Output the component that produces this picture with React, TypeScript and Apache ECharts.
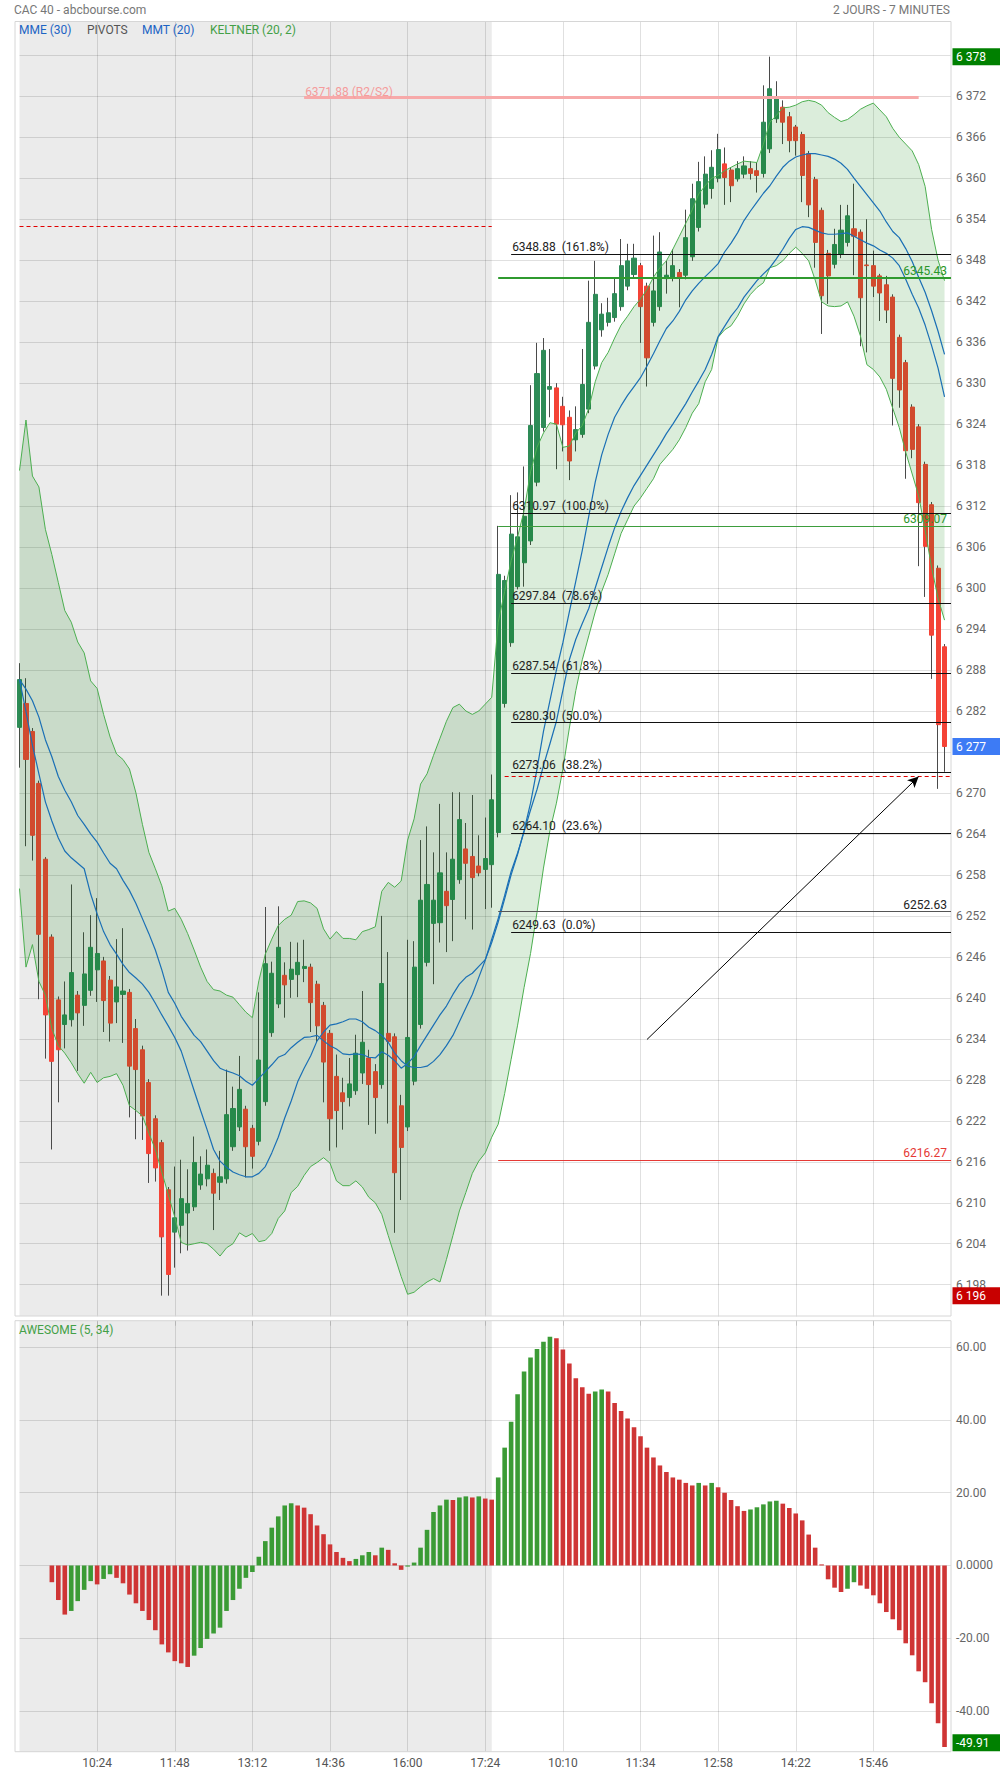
import React, { useEffect, useRef } from "react";
import * as echarts from "echarts";

// ---------- time axis ----------
const SESSION_OPEN_MIN = 9 * 60;
const STEP_MIN = 7;
const DAY1_SLOTS = 74; // 9:00 .. 17:31
const DAY2_SLOTS = 71; // 9:00 .. 17:03 + one empty slot at the right edge
const TICK_INDEX = [12, 24, 36, 48, 60, 72, 84, 96, 108, 120, 132];
const TICK_LABELS = ["10:24", "11:48", "13:12", "14:36", "16:00", "17:24", "10:10", "11:34", "12:58", "14:22", "15:46"];

// ---------- candles ----------
const OPEN = [
  6279.6, 6283.1, 6279.0, 6271.4, 6260.3, 6248.9, 6239.7, 6236.1, 6236.8, 6240.4,
  6238.9, 6241.1, 6244.1, 6245.4, 6242.6, 6239.4, 6240.5, 6240.8, 6235.5, 6232.4,
  6227.6, 6222.3, 6218.8, 6211.9, 6205.7, 6206.7, 6208.5, 6209.4, 6212.6, 6213.5,
  6214.3, 6213.0, 6213.5, 6218.2, 6221.1, 6223.7, 6220.9, 6219.0, 6224.8, 6234.9,
  6239.1, 6243.3, 6242.7, 6243.4, 6244.3, 6244.5, 6242.0, 6238.9, 6234.8, 6228.5,
  6226.1, 6225.4, 6226.4, 6229.0, 6231.2, 6229.2, 6227.3, 6234.8, 6234.3, 6224.2,
  6221.1, 6227.8, 6236.1, 6245.2, 6250.9, 6251.0, 6255.6, 6254.4, 6257.3, 6261.8,
  6260.7, 6259.3, 6258.8, 6259.5,
  6264.2, 6283.1, 6292.0, 6300.2, 6303.7, 6306.9, 6315.5, 6323.5, 6329.1, 6329.3,
  6326.6, 6325.0, 6321.7, 6322.5, 6326.2, 6332.5, 6337.8, 6338.9, 6339.6, 6341.2,
  6344.2, 6345.9, 6347.2, 6344.2, 6338.9, 6341.2, 6345.3, 6345.5, 6346.2, 6345.8,
  6348.5, 6352.8, 6356.2, 6358.5, 6360.0, 6362.1, 6361.2, 6359.9, 6360.6, 6361.4,
  6361.1, 6360.7, 6364.3, 6368.7, 6370.4, 6369.0, 6367.5, 6366.4, 6363.6, 6359.8,
  6355.3, 6349.0, 6347.4, 6348.9, 6350.6, 6352.6, 6352.1, 6347.3, 6347.2, 6345.7,
  6344.4, 6342.6, 6336.7, 6333.0, 6326.5, 6323.6, 6318.1, 6312.2, 6302.9, 6291.4,
];
const HIGH = [
  6289.0, 6286.8, 6279.5, 6271.8, 6260.6, 6249.3, 6240.2, 6242.4, 6256.6, 6241.0,
  6249.6, 6252.1, 6254.6, 6246.0, 6243.2, 6248.6, 6250.2, 6241.3, 6236.9, 6233.0,
  6228.1, 6222.8, 6219.2, 6212.3, 6215.3, 6216.3, 6214.9, 6219.7, 6216.8, 6217.8,
  6215.0, 6217.6, 6229.5, 6227.0, 6231.5, 6224.2, 6221.4, 6240.8, 6253.3, 6245.3,
  6253.4, 6245.2, 6248.2, 6248.1, 6248.5, 6245.0, 6242.5, 6239.4, 6235.3, 6231.7,
  6228.3, 6231.2, 6234.6, 6241.0, 6232.4, 6230.3, 6252.0, 6246.7, 6234.8, 6225.8,
  6248.5, 6248.3, 6263.1, 6265.1, 6261.3, 6268.4, 6261.3, 6270.1, 6270.1, 6265.6,
  6269.7, 6263.8, 6266.4, 6272.7,
  6309.1, 6301.8, 6313.6, 6314.0, 6317.8, 6329.7, 6335.9, 6336.6, 6335.0, 6330.0,
  6328.0, 6326.0, 6326.6, 6335.0, 6345.0, 6347.9, 6341.7, 6342.5, 6345.5, 6351.1,
  6350.4, 6350.4, 6347.6, 6344.7, 6351.6, 6352.1, 6347.9, 6349.6, 6346.7, 6355.4,
  6359.2, 6362.4, 6363.2, 6364.1, 6366.5, 6364.5, 6361.6, 6362.5, 6363.2, 6362.5,
  6362.3, 6373.6, 6377.8, 6374.2, 6371.4, 6369.7, 6367.8, 6366.8, 6364.0, 6360.2,
  6355.7, 6349.5, 6352.6, 6356.1, 6356.1, 6359.2, 6352.5, 6354.0, 6349.4, 6346.0,
  6345.7, 6343.0, 6337.1, 6333.4, 6326.9, 6324.0, 6318.5, 6312.6, 6303.3, 6291.8,
];
const LOW = [
  6273.7, 6262.2, 6260.1, 6239.8, 6231.1, 6217.8, 6224.7, 6232.6, 6235.8, 6229.3,
  6235.9, 6240.3, 6239.4, 6235.0, 6233.6, 6236.3, 6233.4, 6222.5, 6219.3, 6219.2,
  6212.9, 6213.1, 6196.4, 6196.4, 6200.5, 6202.6, 6203.0, 6208.8, 6211.9, 6212.4,
  6206.0, 6210.4, 6212.8, 6217.6, 6220.5, 6213.7, 6215.0, 6218.4, 6224.2, 6234.3,
  6238.5, 6237.1, 6240.0, 6240.1, 6242.3, 6235.0, 6233.5, 6224.7, 6217.6, 6218.1,
  6220.7, 6224.1, 6225.8, 6227.4, 6221.4, 6220.1, 6226.7, 6221.6, 6205.6, 6210.4,
  6220.5, 6227.2, 6235.5, 6244.6, 6242.0, 6248.1, 6246.7, 6248.3, 6256.7, 6251.5,
  6250.0, 6257.8, 6253.0, 6253.2,
  6263.5, 6282.5, 6291.4, 6299.8, 6300.2, 6306.3, 6314.9, 6322.9, 6325.0, 6317.4,
  6320.0, 6315.8, 6320.0, 6322.0, 6325.6, 6332.0, 6336.8, 6338.3, 6339.0, 6340.6,
  6343.6, 6345.3, 6335.9, 6329.5, 6338.3, 6340.6, 6343.1, 6344.9, 6341.1, 6345.2,
  6347.9, 6352.2, 6355.6, 6357.0, 6359.4, 6356.1, 6356.5, 6359.5, 6360.0, 6359.8,
  6357.9, 6360.1, 6363.7, 6368.1, 6365.0, 6363.8, 6363.3, 6356.5, 6354.3, 6346.9,
  6337.2, 6341.6, 6346.8, 6348.3, 6350.0, 6345.8, 6335.4, 6334.5, 6342.6, 6339.1,
  6338.8, 6323.8, 6326.4, 6316.0, 6319.0, 6303.2, 6298.7, 6286.7, 6270.6, 6273.1,
];
const CLOSE = [
  6286.6, 6274.9, 6263.8, 6249.3, 6237.5, 6230.7, 6232.4, 6237.5, 6243.7, 6237.8,
  6243.5, 6247.4, 6246.5, 6239.6, 6236.3, 6241.6, 6241.0, 6230.0, 6229.5, 6222.7,
  6217.2, 6215.1, 6205.0, 6199.5, 6207.8, 6210.6, 6209.9, 6215.9, 6214.2, 6215.5,
  6211.4, 6213.8, 6222.9, 6223.8, 6226.6, 6218.2, 6216.8, 6230.9, 6245.0, 6243.6,
  6247.4, 6241.9, 6244.2, 6245.2, 6244.6, 6239.3, 6235.9, 6230.6, 6222.3, 6223.5,
  6224.8, 6227.4, 6231.9, 6233.5, 6227.3, 6225.4, 6242.1, 6233.6, 6214.4, 6218.1,
  6234.2, 6244.5, 6254.3, 6256.6, 6254.3, 6258.3, 6253.5, 6260.3, 6266.1, 6259.7,
  6257.6, 6258.3, 6260.4, 6269.0,
  6302.0, 6301.1, 6307.9, 6307.5, 6310.5, 6323.8, 6331.4, 6334.8, 6329.5, 6324.0,
  6323.9, 6318.6, 6323.2, 6329.8, 6338.9, 6343.0, 6340.1, 6340.3, 6343.1, 6347.2,
  6347.9, 6348.3, 6341.2, 6333.7, 6343.5, 6349.2, 6345.8, 6347.2, 6345.5, 6351.3,
  6357.0, 6359.5, 6360.6, 6361.6, 6364.2, 6360.1, 6358.9, 6361.4, 6361.8, 6360.7,
  6360.4, 6368.2, 6373.1, 6371.9, 6368.2, 6365.5, 6365.5, 6360.4, 6356.1, 6350.6,
  6342.8, 6345.7, 6350.3, 6352.4, 6354.5, 6351.5, 6342.5, 6347.2, 6344.2, 6343.2,
  6340.7, 6330.7, 6329.0, 6320.1, 6320.3, 6312.5, 6306.1, 6293.1, 6280.0, 6276.8,
];

// ---------- indicators ----------
const KELTNER_UP = [
  6317.2, 6324.6, 6316.4, 6314.8, 6308.6, 6304.9, 6300.8, 6296.7, 6295.0, 6292.1,
  6290.5, 6286.4, 6285.3, 6281.5, 6278.2, 6275.7, 6274.9, 6273.5, 6270.0, 6265.4,
  6261.3, 6258.9, 6256.4, 6252.7, 6253.1, 6251.5, 6249.4, 6247.0, 6244.5, 6242.4,
  6241.2, 6241.0, 6240.4, 6240.1, 6239.0, 6237.9, 6237.1, 6242.5, 6246.4, 6248.6,
  6250.6, 6251.5, 6252.1, 6254.1, 6254.2, 6253.9, 6253.1, 6250.1, 6248.6, 6249.7,
  6248.7, 6248.7, 6248.5, 6249.7, 6250.0, 6250.4, 6255.6, 6256.9, 6256.2, 6257.1,
  6263.1, 6266.2, 6271.3, 6272.8, 6275.5, 6278.0, 6280.5, 6282.5, 6283.0, 6282.0,
  6281.5, 6282.0, 6283.0, 6284.0,
  6295.0, 6299.5, 6304.0, 6307.5, 6311.3, 6317.0, 6320.6, 6322.7, 6324.2, 6324.0,
  6320.6, 6320.8, 6322.7, 6323.8, 6326.3, 6330.2, 6333.0, 6334.5, 6336.6, 6338.5,
  6339.8, 6341.2, 6342.3, 6343.7, 6345.5, 6346.9, 6347.9, 6349.6, 6351.5, 6353.4,
  6355.4, 6357.7, 6358.9, 6360.0, 6360.4, 6361.1, 6361.6, 6362.1, 6362.5, 6362.4,
  6362.3, 6365.0, 6368.2, 6369.2, 6370.3, 6370.4, 6370.7, 6371.2, 6371.4, 6371.2,
  6370.7, 6369.6, 6368.9, 6368.3, 6368.6, 6369.3, 6370.1, 6370.6, 6371.0, 6370.0,
  6369.0, 6367.3, 6366.0, 6365.0, 6364.0, 6362.0, 6358.8, 6352.5, 6348.0, 6345.0,
];
const KELTNER_LOW = [
  6256.0, 6244.5, 6247.8, 6242.4, 6240.4, 6235.5, 6233.0, 6231.9, 6230.5, 6228.9,
  6227.5, 6229.1, 6227.6, 6228.3, 6228.5, 6228.9, 6227.2, 6224.2, 6223.5, 6222.7,
  6220.2, 6217.8, 6214.5, 6211.2, 6207.9, 6204.2, 6203.8, 6204.0, 6204.2, 6204.0,
  6203.2, 6202.2, 6203.4, 6204.0, 6205.6, 6205.0, 6205.5, 6204.3, 6204.5, 6205.5,
  6207.7, 6208.8, 6211.5, 6212.4, 6214.0, 6215.3, 6215.9, 6216.6, 6215.8, 6213.2,
  6212.5, 6212.5, 6213.2, 6212.3, 6210.8, 6210.0, 6208.3, 6205.2, 6202.2, 6199.2,
  6196.6, 6196.9, 6197.7, 6198.4, 6198.9, 6198.4, 6201.7, 6205.2, 6208.8, 6211.5,
  6214.3, 6216.1, 6217.3, 6219.6,
  6221.5, 6226.0, 6231.0, 6236.0, 6241.5, 6246.5, 6252.5, 6259.0, 6264.5, 6268.5,
  6273.5, 6279.5, 6285.0, 6289.5, 6293.0, 6296.5, 6299.5, 6302.0, 6305.0, 6308.0,
  6310.0, 6312.0, 6313.2, 6314.6, 6316.0, 6318.1, 6319.2, 6320.3, 6321.7, 6323.5,
  6325.6, 6327.0, 6330.2, 6332.0, 6336.7, 6337.8, 6338.4, 6339.8, 6341.6, 6343.0,
  6344.0, 6344.7, 6346.9, 6347.2, 6347.9, 6349.0, 6349.9, 6349.0, 6347.9, 6345.1,
  6341.9, 6341.3, 6341.2, 6341.3, 6341.9, 6339.8, 6336.9, 6332.7, 6332.0, 6330.9,
  6329.1, 6326.3, 6323.5, 6319.9, 6316.7, 6313.5, 6308.5, 6303.0, 6298.5, 6295.3,
];
const MME30 = [
  6286.6, 6285.2, 6283.5, 6281.1, 6277.8, 6275.3, 6272.4, 6270.4, 6268.7, 6266.7,
  6265.4, 6264.0, 6262.8, 6261.2, 6259.7, 6258.9, 6257.2, 6255.7, 6253.8, 6251.6,
  6249.4, 6247.0, 6244.1, 6240.8, 6239.2, 6237.3, 6235.9, 6234.5, 6233.6, 6232.2,
  6230.8, 6229.7, 6229.3, 6229.0, 6228.6, 6227.8, 6227.2, 6228.2, 6229.2, 6230.2,
  6231.3, 6231.7, 6232.7, 6233.5, 6234.2, 6234.3, 6234.5, 6233.7, 6233.0, 6232.5,
  6231.8, 6231.7, 6231.8, 6231.7, 6231.3, 6231.2, 6232.1, 6231.6, 6230.8, 6229.7,
  6230.4, 6231.4, 6233.0, 6234.5, 6236.0, 6237.5, 6238.8, 6240.5, 6242.0, 6243.0,
  6243.6, 6244.6, 6245.6, 6248.1,
  6251.1, 6254.5, 6258.0, 6261.0, 6264.5, 6268.5, 6273.5, 6279.0, 6283.5, 6288.0,
  6292.0, 6296.5, 6301.0, 6305.5, 6310.5, 6315.5, 6319.5, 6322.5, 6325.0, 6326.7,
  6328.2, 6329.5, 6330.8, 6332.5, 6334.3, 6336.2, 6338.0, 6339.1, 6340.5, 6342.2,
  6343.5, 6344.6, 6345.6, 6346.5, 6347.5, 6349.2, 6350.5, 6352.0, 6353.8, 6355.2,
  6356.5, 6357.8, 6358.9, 6360.3, 6361.6, 6362.5, 6363.1, 6363.4, 6363.6, 6363.6,
  6363.4, 6363.2, 6362.8, 6362.2, 6361.3, 6360.0, 6358.8, 6357.6, 6356.4, 6355.2,
  6353.6, 6352.2, 6351.3, 6349.7, 6347.8, 6345.5, 6343.3, 6340.6, 6337.6, 6334.2,
];
const MMT20 = [
  6286.6, 6281.9, 6277.0, 6272.8, 6268.7, 6265.9, 6263.4, 6261.5, 6260.5, 6259.7,
  6258.9, 6255.2, 6252.3, 6249.7, 6247.8, 6246.4, 6244.9, 6243.7, 6242.9, 6242.0,
  6240.8, 6239.2, 6237.5, 6235.9, 6234.2, 6232.2, 6229.3, 6226.4, 6223.5, 6220.7,
  6217.8, 6216.1, 6215.2, 6214.5, 6214.1, 6213.8, 6213.8, 6214.3, 6215.3, 6217.3,
  6219.6, 6222.4, 6224.9, 6227.7, 6229.7, 6231.5, 6233.7, 6235.0, 6236.0, 6236.2,
  6236.5, 6236.9, 6236.9, 6236.5, 6235.7, 6235.2, 6234.5, 6233.5, 6231.9, 6230.8,
  6230.0, 6229.8, 6229.8, 6230.0, 6230.7, 6231.7, 6233.0, 6234.5, 6236.5, 6238.5,
  6240.5, 6243.0, 6245.5, 6248.6,
  6251.6, 6255.0, 6258.5, 6261.2, 6264.3, 6267.5, 6270.5, 6274.0, 6277.2, 6280.5,
  6285.0, 6289.5, 6292.5, 6294.8, 6297.0, 6300.0, 6303.0, 6306.0, 6308.8, 6311.2,
  6313.2, 6315.0, 6316.5, 6318.0, 6319.5, 6321.0, 6322.6, 6324.0, 6325.5, 6327.0,
  6328.7, 6330.3, 6332.0, 6334.2, 6336.8, 6338.3, 6339.8, 6341.0, 6342.6, 6343.8,
  6345.0, 6346.0, 6346.9, 6348.2, 6349.6, 6351.2, 6352.5, 6352.9, 6352.8, 6352.4,
  6352.0, 6351.8, 6351.8, 6351.9, 6352.0, 6351.5, 6351.0, 6350.5, 6350.1, 6349.5,
  6349.0, 6348.3, 6347.2, 6345.2, 6343.0, 6341.0, 6338.5, 6335.5, 6332.2, 6328.0,
];
const AWESOME: (number | null)[] = [
  null, null, null, null, null, -4.6, -9.5, -13.5, -12.5, -9.8,
  -6.7, -4.3, -5.2, -3.7, -2.4, -3.4, -4.9, -8.0, -10.4, -12.5,
  -15.0, -17.8, -21.7, -23.9, -26.3, -26.9, -27.9, -24.8, -22.7, -20.2,
  -18.7, -17.1, -12.5, -9.5, -6.4, -3.4, -1.8, 2.4, 6.7, 10.4,
  13.5, 16.5, 17.1, 16.5, 15.9, 14.1, 11.0, 8.6, 5.8, 3.7,
  2.1, 1.2, 1.8, 2.8, 3.7, 2.8, 4.9, 4.3, 0.6, -1.2,
  -0.3, 0.8, 4.9, 9.8, 14.7, 16.5, 18.1, 18.0, 18.7, 19.0,
  18.7, 19.0, 18.4, 18.1,
  24.2, 32.4, 39.5, 47.1, 53.3, 57.2, 59.5, 61.5, 62.9, 62.5,
  59.4, 55.5, 51.5, 49.0, 47.2, 47.8, 48.4, 47.8, 44.7, 42.5,
  40.4, 38.0, 35.5, 32.4, 29.7, 27.5, 25.7, 24.2, 23.6, 22.7,
  22.0, 22.7, 22.0, 22.7, 21.5, 20.0, 18.0, 16.3, 15.0, 15.4,
  16.0, 16.8, 17.6, 17.8, 17.0, 15.8, 14.3, 12.4, 8.5, 4.9,
  0.3, -3.8, -6.1, -7.3, -6.4, -4.6, -5.5, -6.4, -8.2, -10.4,
  -12.8, -14.8, -17.8, -21.4, -24.7, -29.1, -32.1, -37.9, -43.4, -49.91,
];

// ---------- drawn levels ----------
const FIB_LEVELS = [6348.88, 6310.97, 6297.84, 6287.54, 6280.3, 6273.06, 6264.1, 6249.63];
const FIB_PCTS = ["161.8%", "100.0%", "78.6%", "61.8%", "50.0%", "38.2%", "23.6%", "0.0%"];
const FIB_FROM = 76;
const PIVOT_LEVELS = [6345.43, 6309.07, 6252.63, 6216.27];
const PIVOT_FROM = 74;
const LAST_SLOT = DAY1_SLOTS + DAY2_SLOTS - 1;
const PREV_DASH_LEVEL = 6353.0;
const DAY_DASH_LEVEL = 6272.4;
const DAY_DASH_FROM = 75;
const HIGH_LEVEL = 6371.88;
const HIGH_LEVEL_TEXT = "6371.88 (R2/S2)";
const HIGH_LEVEL_RANGE = [44, 139];
const ARROW_FROM = [97, 6233.9];
const ARROW_TO = [139, 6272.4];

// ---------- styles ----------
const FONT = "Roboto";
const UP = "#2e8b57";
const DOWN = "#f44336";
const WICK = "#4a4a4a";
const BAND_FILL = "rgba(0,128,0,0.2)";
const BAND_LINE = "#4caf50";
const BLUE = "#1a6fb5";
const GRID_LINE = "rgba(0,0,0,0.12)";
const PIVOT_STYLE = [
  { color: "#2f9a2f", width: 2, text: "#2a962a" },
  { color: "#3d9d3d", width: 1, text: "#2a962a" },
  { color: "#555555", width: 1, text: "#222222" },
  { color: "#e53935", width: 1, text: "#e53935" },
];
const MAIN_TOP = 21.5;
const MAIN_BOTTOM = 1316;
const AO_TOP = 1320.7;
const AO_BOTTOM = 1751.7;
const PLOT_LEFT = 15;
const PLOT_RIGHT = 951;

const pad2 = (n: number) => String(n).padStart(2, "0");
const fmtTime = (m: number) => `${pad2(Math.floor(m / 60))}:${pad2(m % 60)}`;
const fmtPrice = (v: number) => String(Math.round(v)).replace(/\B(?=(\d{3})+(?!\d))/g, " ");

function buildCategories(): string[] {
  const out: string[] = [];
  for (let i = 0; i < DAY1_SLOTS; i++) out.push(fmtTime(SESSION_OPEN_MIN + i * STEP_MIN));
  for (let j = 0; j < DAY2_SLOTS; j++) out.push(fmtTime(SESSION_OPEN_MIN + j * STEP_MIN));
  return out;
}

function buildOption(): any {
  const cats = buildCategories();
  const showTick = (i: number) => TICK_INDEX.indexOf(i) >= 0;
  const lastClose = CLOSE[CLOSE.length - 1];
  const full = OPEN.map((o, i) => [o, CLOSE[i], LOW[i], HIGH[i]]);
  const body = OPEN.map((o, i) => [o, CLOSE[i], Math.min(o, CLOSE[i]), Math.max(o, CLOSE[i])]);
  const bandSpan = KELTNER_UP.map((u, i) => +(u - KELTNER_LOW[i]).toFixed(2));
  const aoData = AWESOME.map((v, i) => {
    if (v == null) return "-";
    const prev = i > 0 && AWESOME[i - 1] != null ? (AWESOME[i - 1] as number) : 0;
    return { value: v, itemStyle: { color: v > prev ? "#3b9b35" : "#cf3535" } };
  });

  const seg = (from: number, to: number, v: number, lineStyle: any, label?: any) => [
    { coord: [from, v], lineStyle, label: label || { show: false } },
    { coord: [to, v] },
  ];
  const levelLines: any[] = [];
  FIB_LEVELS.forEach((v, k) => {
    levelLines.push(
      seg(FIB_FROM, LAST_SLOT, v, { color: "#111", width: 1, type: "solid" }, {
        show: true,
        position: "insideStartTop",
        distance: [1, 1],
        formatter: `${v.toFixed(2)}\u00a0\u00a0(${FIB_PCTS[k]})`,
        color: "#222",
        fontSize: 12,
        fontFamily: FONT,
      })
    );
  });
  PIVOT_LEVELS.forEach((v, k) => {
    const st = PIVOT_STYLE[k];
    levelLines.push(
      seg(PIVOT_FROM, LAST_SLOT, v, { color: st.color, width: st.width, type: "solid" }, {
        show: true,
        position: "insideEndTop",
        distance: [4, 1],
        formatter: v.toFixed(2),
        color: st.text,
        fontSize: 12,
        fontFamily: FONT,
      })
    );
  });
  levelLines.push(seg(0, DAY1_SLOTS - 1, PREV_DASH_LEVEL, { color: "#e00000", width: 1, type: [4, 3] }));
  levelLines.push(seg(DAY_DASH_FROM, LAST_SLOT, DAY_DASH_LEVEL, { color: "#e00000", width: 1, type: [4, 3] }));
  levelLines.push(
    seg(HIGH_LEVEL_RANGE[0], HIGH_LEVEL_RANGE[1], HIGH_LEVEL, { color: "#f7a9a9", width: 3, type: "solid" }, {
      show: true,
      position: "insideStartTop",
      distance: [1, -1],
      formatter: HIGH_LEVEL_TEXT,
      color: "#f59c9c",
      fontSize: 12,
      fontFamily: FONT,
    })
  );
  levelLines.push([
    { coord: ARROW_FROM, symbol: "none", lineStyle: { color: "#000", width: 1, type: "solid" }, label: { show: false } },
    { coord: ARROW_TO, symbol: "arrow", symbolSize: [8, 11] },
  ]);

  const splitLine = (fn?: any) => ({
    show: true,
    interval: fn,
    lineStyle: { color: GRID_LINE, width: 1 },
  });

  return {
    animation: false,
    backgroundColor: "#fff",
    textStyle: { fontFamily: FONT },
    grid: [
      { left: 19.5, right: 1000 - PLOT_RIGHT, top: 14.3, bottom: 1774 - 1325.7 },
      { left: 19.5, right: 1000 - PLOT_RIGHT, top: AO_TOP, bottom: 1774 - AO_BOTTOM },
    ],
    xAxis: [
      {
        type: "category",
        gridIndex: 0,
        data: cats,
        boundaryGap: false,
        axisLine: { show: false },
        axisTick: { show: false },
        axisLabel: { show: false },
        splitLine: splitLine((i: number) => showTick(i)),
      },
      {
        type: "category",
        gridIndex: 1,
        data: cats,
        boundaryGap: false,
        axisLine: { show: false },
        axisTick: { show: false },
        axisLabel: {
          interval: (i: number) => showTick(i),
          formatter: (val: string, i: number) => {
            const k = TICK_INDEX.indexOf(i);
            return k >= 0 ? TICK_LABELS[k] : val;
          },
          color: "#555",
          fontSize: 12,
          fontFamily: FONT,
          margin: 5,
        },
        splitLine: splitLine((i: number) => showTick(i)),
      },
    ],
    yAxis: [
      {
        type: "value",
        gridIndex: 0,
        position: "right",
        min: 6192,
        max: 6384,
        interval: 6,
        axisLine: { show: false },
        axisTick: { show: false },
        axisLabel: {
          // the tick hidden under the last-price tag is not written
          formatter: (v: number) => (Math.abs(v - lastClose) < 2 ? "" : fmtPrice(v)),
          color: "#666",
          fontSize: 12,
          fontFamily: FONT,
          margin: 5,
          showMinLabel: false,
          showMaxLabel: false,
        },
        splitLine: { show: true, lineStyle: { color: GRID_LINE }, showMinLine: false, showMaxLine: false },
      },
      {
        type: "value",
        gridIndex: 1,
        position: "right",
        min: -51.2,
        max: 67.3,
        splitNumber: 5,
        axisLine: { show: false },
        axisTick: { show: false },
        axisLabel: {
          formatter: (v: number) => (v === 0 ? "0.0000" : v.toFixed(2)),
          color: "#666",
          fontSize: 12,
          fontFamily: FONT,
          margin: 5,
          showMinLabel: false,
          showMaxLabel: false,
        },
        splitLine: { show: true, lineStyle: { color: GRID_LINE }, showMinLine: false, showMaxLine: false },
      },
    ],
    series: [
      {
        name: "wick",
        type: "candlestick",
        xAxisIndex: 0,
        yAxisIndex: 0,
        data: full,
        barWidth: 1,
        z: 2,
        itemStyle: { color: WICK, color0: WICK, borderColor: WICK, borderColor0: WICK, borderWidth: 1 },
      },
      {
        name: "body",
        type: "candlestick",
        xAxisIndex: 0,
        yAxisIndex: 0,
        data: body,
        barWidth: 4.6,
        z: 3,
        itemStyle: { color: UP, color0: DOWN, borderColor: UP, borderColor0: DOWN, borderWidth: 1 },
      },
      {
        name: "keltnerLow",
        type: "line",
        xAxisIndex: 0,
        yAxisIndex: 0,
        data: KELTNER_LOW,
        stack: "keltner",
        symbol: "none",
        z: 4,
        lineStyle: { color: BAND_LINE, width: 1 },
      },
      {
        name: "keltnerUp",
        type: "line",
        xAxisIndex: 0,
        yAxisIndex: 0,
        data: bandSpan,
        stack: "keltner",
        symbol: "none",
        z: 4,
        lineStyle: { color: BAND_LINE, width: 1 },
        areaStyle: { color: BAND_FILL },
      },
      {
        name: "MME (30)",
        type: "line",
        xAxisIndex: 0,
        yAxisIndex: 0,
        data: MME30,
        symbol: "none",
        z: 5,
        lineStyle: { color: BLUE, width: 1.2 },
      },
      {
        name: "MMT (20)",
        type: "line",
        xAxisIndex: 0,
        yAxisIndex: 0,
        data: MMT20,
        symbol: "none",
        z: 5,
        lineStyle: { color: BLUE, width: 1.2 },
        markLine: {
          silent: true,
          z: 10,
          symbol: ["none", "none"],
          label: { show: false },
          data: levelLines,
        },
      },
      {
        name: "AWESOME (5, 34)",
        type: "bar",
        xAxisIndex: 1,
        yAxisIndex: 1,
        data: aoData,
        barWidth: 4.6,
        z: 3,
      },
    ],
  };
}

function textEl(x: number, y: number, text: string, fill: string, align = "left", z = 20) {
  return {
    type: "text",
    z,
    x,
    y,
    silent: true,
    style: {
      text,
      fill,
      font: `12px ${FONT}`,
      textAlign: align,
      align,
      textVerticalAlign: "middle",
      verticalAlign: "middle",
    },
  };
}

function tagEls(y: number, text: string, bg: string): any[] {
  return [
    { type: "rect", z: 21, silent: true, shape: { x: PLOT_RIGHT + 1.5, y: y - 8.5, width: 1000 - PLOT_RIGHT - 1.5, height: 17 }, style: { fill: bg } },
    textEl(PLOT_RIGHT + 5, y + 0.5, text, "#fff", "left", 22),
  ];
}

function buildGraphics(chart: any): any[] {
  const n = OPEN.length;
  const x0 = chart.convertToPixel({ xAxisIndex: 0 }, 0) as number;
  const x1 = chart.convertToPixel({ xAxisIndex: 0 }, DAY1_SLOTS - 1) as number;
  const maxHigh = Math.max(...HIGH);
  const minLow = Math.min(...LOW);
  const last = CLOSE[n - 1];
  const lastAo = AWESOME[AWESOME.length - 1] as number;
  const yMax = chart.convertToPixel({ yAxisIndex: 0 }, maxHigh) as number;
  const yMin = chart.convertToPixel({ yAxisIndex: 0 }, minLow) as number;
  const yLast = chart.convertToPixel({ yAxisIndex: 0 }, last) as number;
  const yAo = chart.convertToPixel({ yAxisIndex: 1 }, lastAo) as number;
  return [
    { type: "rect", z: -10, silent: true, shape: { x: x0, y: MAIN_TOP, width: x1 - x0, height: MAIN_BOTTOM - MAIN_TOP }, style: { fill: "#ebebeb" } },
    { type: "rect", z: -10, silent: true, shape: { x: x0, y: AO_TOP, width: x1 - x0, height: AO_BOTTOM - AO_TOP }, style: { fill: "#ebebeb" } },
    { type: "rect", z: 1, silent: true, shape: { x: 0, y: 0, width: 1000, height: MAIN_TOP - 0.5 }, style: { fill: "#fff" } },
    { type: "rect", z: 1, silent: true, shape: { x: 0, y: MAIN_BOTTOM + 0.5, width: 1000, height: AO_TOP - MAIN_BOTTOM - 1 }, style: { fill: "#fff" } },
    { type: "rect", z: 8, silent: true, shape: { x: PLOT_LEFT, y: MAIN_TOP, width: PLOT_RIGHT - PLOT_LEFT, height: MAIN_BOTTOM - MAIN_TOP }, style: { fill: "none", stroke: "#d6d6d6", lineWidth: 1 } },
    { type: "rect", z: 8, silent: true, shape: { x: PLOT_LEFT, y: AO_TOP, width: PLOT_RIGHT - PLOT_LEFT, height: AO_BOTTOM - AO_TOP }, style: { fill: "none", stroke: "#d6d6d6", lineWidth: 1 } },
    textEl(14, 10, "CAC 40 - abcbourse.com", "#777"),
    textEl(950, 10, "2 JOURS - 7 MINUTES", "#777", "right"),
    textEl(19, 29.5, "MME (30)", "#1c64c4"),
    textEl(87, 29.5, "PIVOTS", "#555"),
    textEl(142, 29.5, "MMT (20)", "#1c64c4"),
    textEl(210, 29.5, "KELTNER (20, 2)", "#43a047"),
    textEl(19, 1329.5, "AWESOME (5, 34)", "#43a047"),
    ...tagEls(yMax, fmtPrice(maxHigh), "#008000"),
    ...tagEls(yMin, fmtPrice(minLow), "#c80000"),
    ...tagEls(yLast, fmtPrice(last), "#3d7bf5"),
    ...tagEls(Math.min(yAo, AO_BOTTOM - 9), lastAo.toFixed(2), "#008000"),
  ];
}

export default function App() {
  const ref = useRef<HTMLDivElement>(null);
  useEffect(() => {
    document.body.style.margin = "0";
    document.body.style.overflow = "hidden";
    const el = ref.current as HTMLDivElement;
    const chart = echarts.init(el, undefined, { renderer: "svg", width: 1000, height: 1774 });
    chart.setOption(buildOption());
    chart.setOption({ graphic: { elements: buildGraphics(chart) } });
    return () => chart.dispose();
  }, []);
  return <div ref={ref} style={{ width: 1000, height: 1774 }} />;
}
